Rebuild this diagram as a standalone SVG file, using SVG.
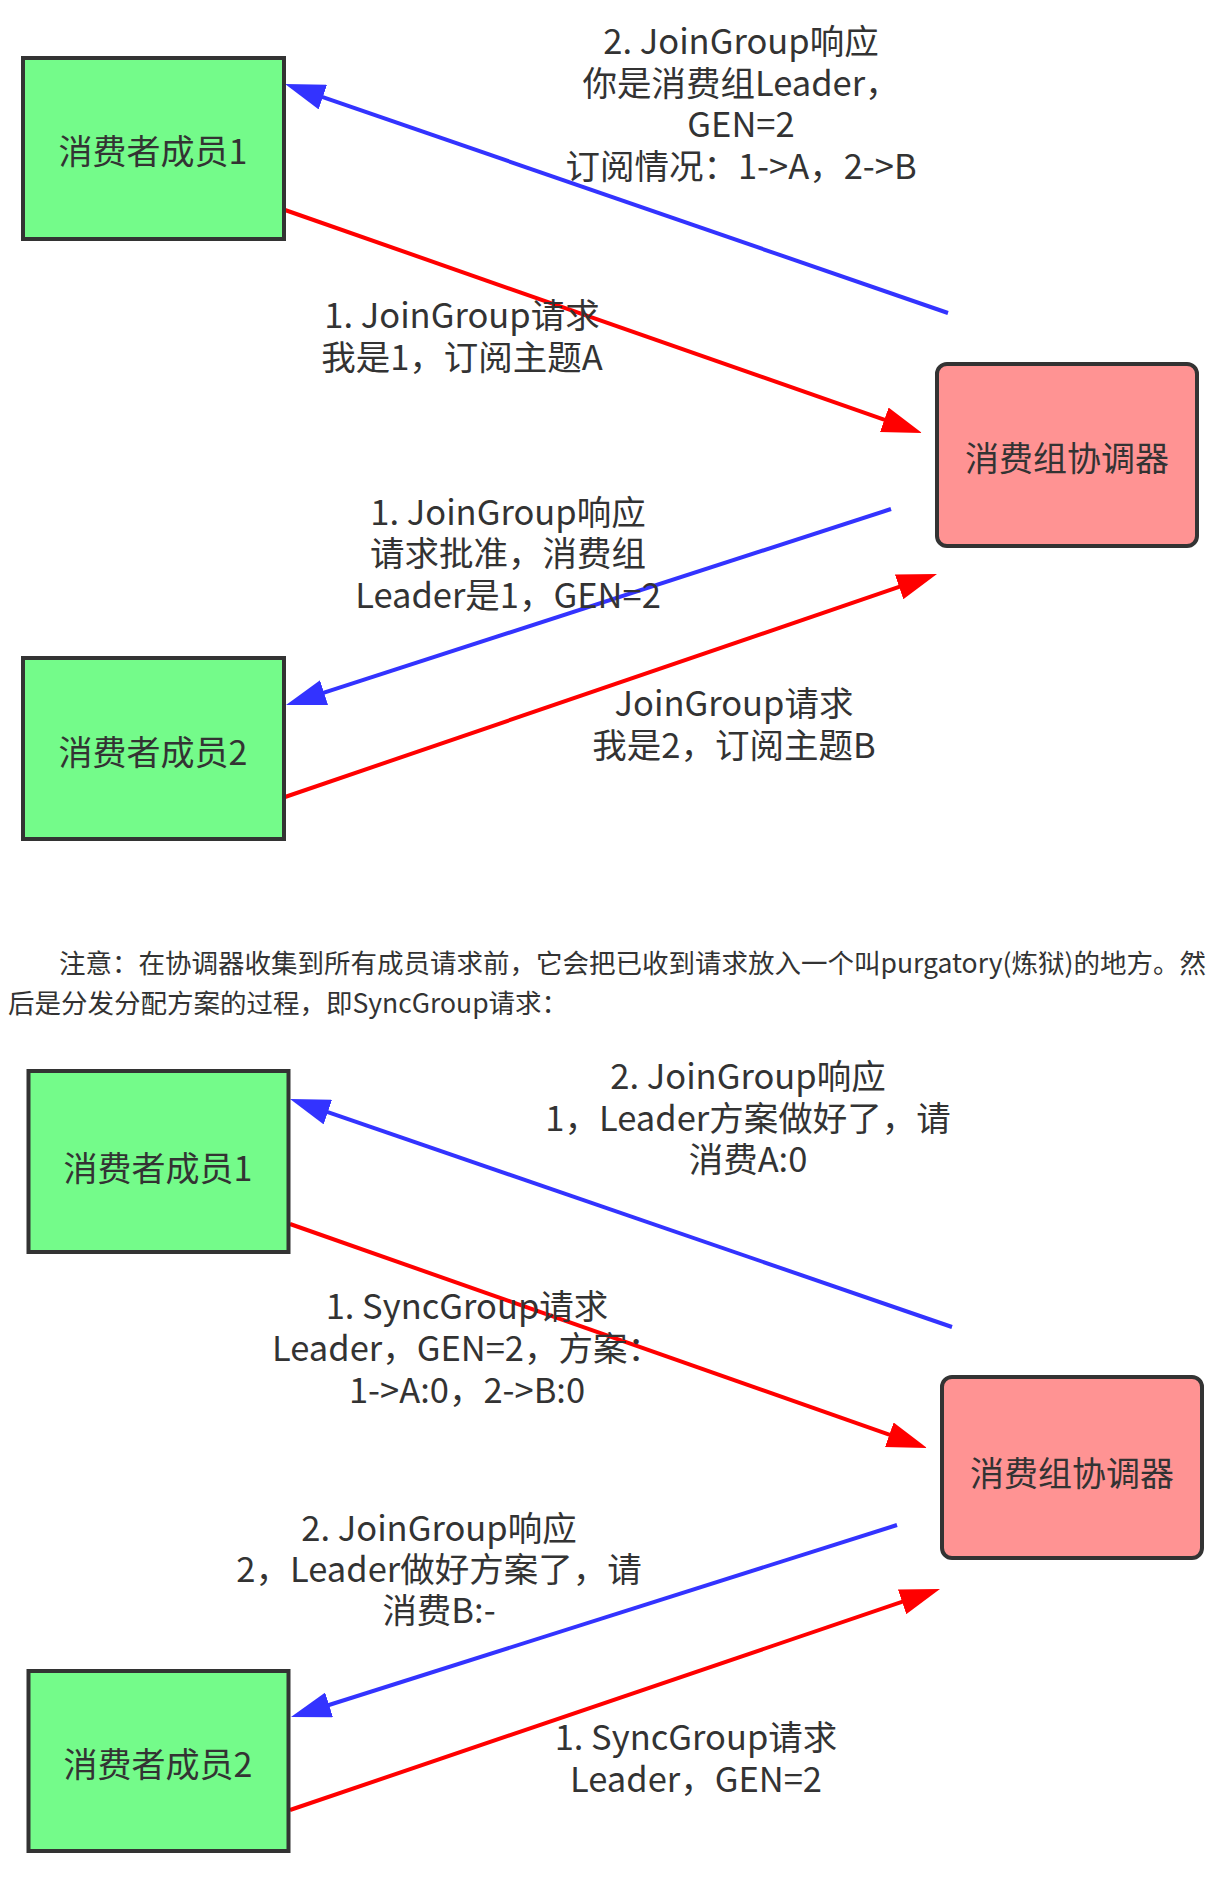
<svg xmlns="http://www.w3.org/2000/svg" width="1228" height="1878" viewBox="0 0 1228 1878">
<style>
.member{fill:#74FB8A;stroke:#333333;stroke-width:4}
.coord{fill:#FF9393;stroke:#333333;stroke-width:4}
.ntext{font-family:"Noto Sans CJK SC","Microsoft YaHei",sans-serif;font-size:34px;fill:#333333;text-anchor:middle;dominant-baseline:central}
.lbl{font-family:"Noto Sans CJK SC","Microsoft YaHei",sans-serif;font-size:34.5px;fill:#333333;text-anchor:middle}
.para{font-family:"Noto Sans CJK SC","Microsoft YaHei",sans-serif;font-size:26.5px;fill:#333333}
.blue{stroke:#3333FF;stroke-width:4;fill:none}
.red{stroke:#FF0000;stroke-width:4;fill:none}
</style>
<defs>
<marker id="arrBlue" markerUnits="userSpaceOnUse" markerWidth="40" markerHeight="26" viewBox="0 0 40 26" refX="30" refY="13" orient="auto">
<path d="M0,0 L40,13 L0,26 Z" fill="#3333FF"/>
</marker>
<marker id="arrRed" markerUnits="userSpaceOnUse" markerWidth="40" markerHeight="26" viewBox="0 0 40 26" refX="30" refY="13" orient="auto">
<path d="M0,0 L40,13 L0,26 Z" fill="#FF0000"/>
</marker>
</defs>
<rect width="1228" height="1878" fill="#FFFFFF"/>

<g id="connectors">
<g id="e1">
<line class="blue" x1="948" y1="313" x2="294.5" y2="87.3" marker-end="url(#arrBlue)"/>
<text class="lbl" x="741"><tspan x="741" y="54">2. JoinGroup响应</tspan><tspan x="741" y="96">你是消费组Leader，</tspan><tspan x="741" y="137">GEN=2</tspan><tspan x="741" y="179">订阅情况：1-&gt;A，2-&gt;B</tspan></text>
</g>
<g id="e2">
<line class="red" x1="285" y1="210" x2="912.6" y2="429.7" marker-end="url(#arrRed)"/>
<text class="lbl" x="462"><tspan x="462" y="328">1. JoinGroup请求</tspan><tspan x="462" y="370">我是1，订阅主题A</tspan></text>
</g>
<g id="e3">
<line class="blue" x1="891" y1="509" x2="295.5" y2="701.9" marker-end="url(#arrBlue)"/>
<text class="lbl" x="508"><tspan x="508" y="525">1. JoinGroup响应</tspan><tspan x="508" y="566">请求批准，消费组</tspan><tspan x="508" y="608">Leader是1，GEN=2</tspan></text>
</g>
<g id="e4">
<line class="red" x1="285" y1="797" x2="927.5" y2="577.2" marker-end="url(#arrRed)"/>
<text class="lbl" x="734"><tspan x="734" y="716">JoinGroup请求</tspan><tspan x="734" y="758">我是2，订阅主题B</tspan></text>
</g>
<g id="e5">
<line class="blue" x1="952" y1="1327" x2="299.5" y2="1102.3" marker-end="url(#arrBlue)"/>
<text class="lbl" x="748"><tspan x="748" y="1089">2. JoinGroup响应</tspan><tspan x="748" y="1131">1，Leader方案做好了，请</tspan><tspan x="748" y="1172">消费A:0</tspan></text>
</g>
<g id="e6">
<line class="red" x1="290" y1="1224" x2="917.6" y2="1444.7" marker-end="url(#arrRed)"/>
<text class="lbl" x="467"><tspan x="467" y="1319">1. SyncGroup请求</tspan><tspan x="467" y="1361">Leader，GEN=2，方案：</tspan><tspan x="467" y="1403">1-&gt;A:0，2-&gt;B:0</tspan></text>
</g>
<g id="e7">
<line class="blue" x1="897" y1="1525" x2="300.5" y2="1714" marker-end="url(#arrBlue)"/>
<text class="lbl" x="439"><tspan x="439" y="1541">2. JoinGroup响应</tspan><tspan x="439" y="1582">2，Leader做好方案了，请</tspan><tspan x="439" y="1623">消费B:-</tspan></text>
</g>
<g id="e8">
<line class="red" x1="290" y1="1810" x2="930.5" y2="1592.2" marker-end="url(#arrRed)"/>
<text class="lbl" x="696"><tspan x="696" y="1750">1. SyncGroup请求</tspan><tspan x="696" y="1792">Leader，GEN=2</tspan></text>
</g>
</g>

<g id="member1-a">
<rect class="member" x="23" y="58" width="261" height="181"/>
<text class="ntext" x="153" y="149">消费者成员1</text>
</g>
<g id="member2-a">
<rect class="member" x="23" y="658" width="261" height="181"/>
<text class="ntext" x="153" y="750">消费者成员2</text>
</g>
<g id="coordinator-a">
<rect class="coord" x="937" y="364" width="260" height="182" rx="10" ry="10"/>
<text class="ntext" x="1067" y="456">消费组协调器</text>
</g>

<g id="note">
<text class="para" x="59" y="973">注意：在协调器收集到所有成员请求前，它会把已收到请求放入一个叫purgatory(炼狱)的地方。然</text>
<text class="para" x="8" y="1013">后是分发分配方案的过程，即SyncGroup请求：</text>
</g>

<g id="member1-b">
<rect class="member" x="28.5" y="1071" width="260" height="181"/>
<text class="ntext" x="158" y="1166">消费者成员1</text>
</g>
<g id="member2-b">
<rect class="member" x="28.5" y="1671" width="260" height="180"/>
<text class="ntext" x="158" y="1762">消费者成员2</text>
</g>
<g id="coordinator-b">
<rect class="coord" x="942" y="1377" width="260" height="181" rx="10" ry="10"/>
<text class="ntext" x="1072" y="1471">消费组协调器</text>
</g>
</svg>
